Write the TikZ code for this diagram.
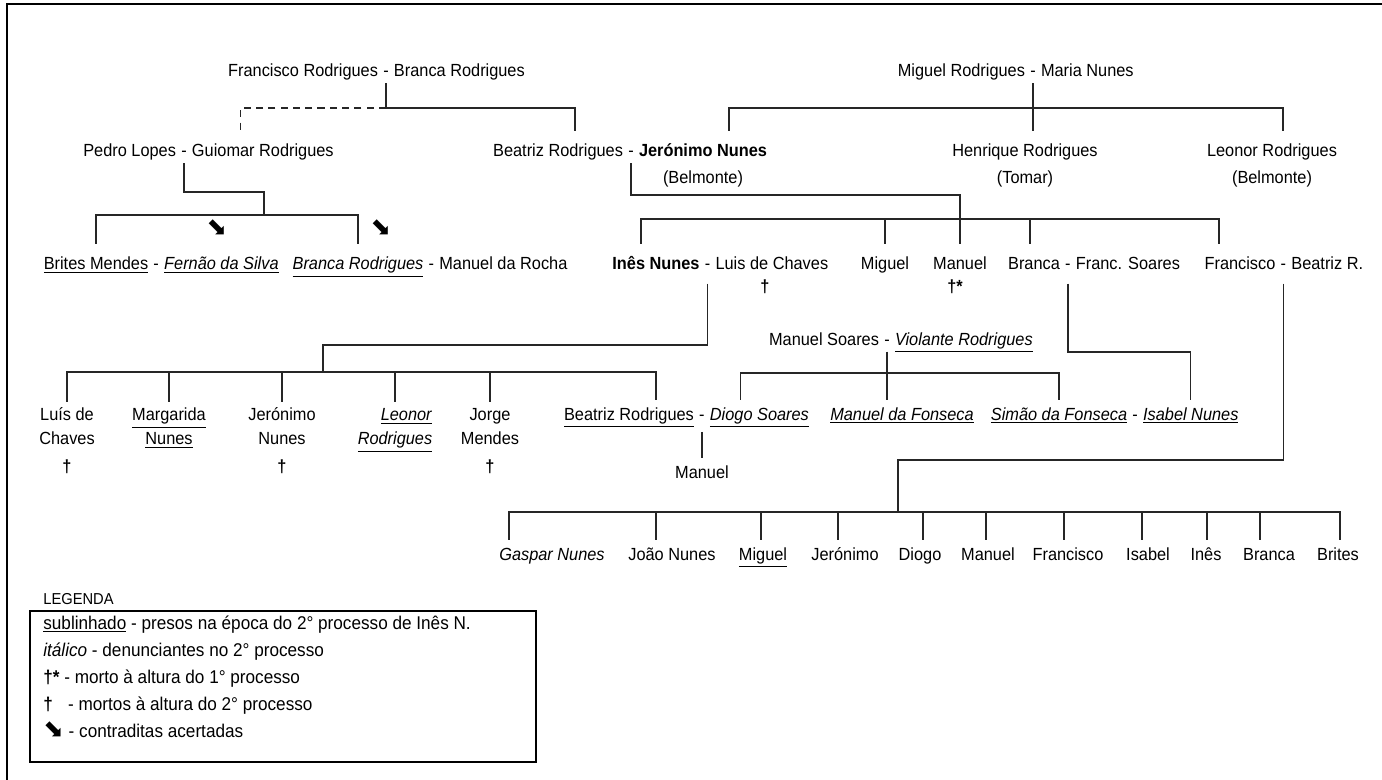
\documentclass[tikz,border=0pt]{standalone}
\usepackage{fontspec}
\setmainfont{Liberation Sans}[FakeStretch=0.93]
\newfontfamily\arrowfont{DejaVu Sans}
\usetikzlibrary{positioning}
\tikzstyle{person} = [inner xsep=0pt, inner ysep=1pt, text height=8pt, text depth=2.5pt]
\tikzstyle{wed} = [person, inner xsep=2.6pt]
\tikzstyle{kid} = [anchor=north, align=center, inner sep=1pt]
\tikzstyle{line} = [draw, line width=0.7pt, black!85]
\tikzstyle{drop} = [line, shorten >=5.5pt]
\tikzstyle{dropk} = [line, shorten >=2pt]
\tikzstyle{kin} = [line, dash pattern=on 4pt off 3pt, shorten >=5.5pt]
\newcommand{\sublin}[1]{\underline{#1}}
\newcommand{\cruz}{\textbf{†}}
\newcommand{\seta}{{\arrowfont\fontsize{14}{14}\selectfont ⬊}}

\begin{document}
\begin{tikzpicture}[x=0.02cm, y=-0.02cm,
    every node/.append style={font=\fontsize{10}{13.7}\selectfont}]
	\useasboundingbox (0,0) rectangle (1382,780);
	\draw[line width=1.4pt] (1382,4) -- (7,4) -- (7,780);

	% first generation
	\node [wed, anchor=base] (mFB) at (386,77) {-};
	\node [person, left=0pt of mFB] (franciscoR) {Francisco Rodrigues};
	\node [person, right=0pt of mFB] (brancaR0) {Branca Rodrigues};
	\node [wed, anchor=base] (mMM) at (1033,77) {-};
	\node [person, left=0pt of mMM] (miguelR) {Miguel Rodrigues};
	\node [person, right=0pt of mMM] (mariaN) {Maria Nunes};

	% second generation
	\node [wed, anchor=base] (mPG) at (184,157) {-};
	\node [person, left=0pt of mPG] (pedroL) {Pedro Lopes};
	\node [person, right=0pt of mPG] (guiomarR) {Guiomar Rodrigues};
	\node [wed, anchor=base] (mBJ) at (631,157) {-};
	\node [person, left=0pt of mBJ] (beatrizR) {Beatriz Rodrigues};
	\node [person, right=0pt of mBJ] (jeronimoN) {\textbf{Jerónimo Nunes}};
	\node [person, below=2pt of jeronimoN] (belmA) {(Belmonte)};
	\node [person, anchor=base] (henriqueR) at (1025,157) {Henrique Rodrigues};
	\node [person, below=2pt of henriqueR] (tomarH) {(Tomar)};
	\node [person, anchor=base] (leonorR) at (1272,157) {Leonor Rodrigues};
	\node [person, below=2pt of leonorR] (belmB) {(Belmonte)};

	% third generation
	\node [person, anchor=base] (britesM) at (96,270) {\sublin{Brites Mendes}};
	\node [wed, right=0pt of britesM] (mBF) {-};
	\node [person, right=0pt of mBF] (fernaoS) {\sublin{\textit{Fernão da Silva}}};
	\node [person, anchor=base] (brancaR1) at (358,270) {\sublin{\textit{Branca Rodrigues}}};
	\node [wed, right=0pt of brancaR1] (mBM) {-};
	\node [person, right=0pt of mBM] (manuelR) {Manuel da Rocha};
	\node (arrA) at (217,228) {\seta};
	\node (arrB) at (381,228) {\seta};

	\node [person, anchor=base] (inesN) at (656,270) {\textbf{Inês Nunes}};
	\node [wed, right=0pt of inesN] (mIL) {-};
	\node [person, right=0pt of mIL] (luisC) {Luis de Chaves};
	\node [person, below=0pt of luisC, xshift=-0.14cm] (dagL) {\cruz};
	\node [person, anchor=base] (miguelN) at (885,270) {Miguel};
	\node [person, anchor=base] (manuelN) at (960,270) {Manuel};
	\node [person, below=0pt of manuelN, xshift=-0.1cm] (dagM) {\textbf{†*}};
	\node [person, anchor=base] (brancaN) at (1034,270) {Branca};
	\node [wed, right=0pt of brancaN] (mBS) {-};
	\node [person, right=0pt of mBS] (soaresF) {Franc. Soares};
	\node [person, anchor=base] (franciscoN) at (1240,270) {Francisco};
	\node [wed, right=0pt of franciscoN] (mFR) {-};
	\node [person, right=0pt of mFR] (beatrizN) {Beatriz R.};

	% fourth generation
	\node [kid] (luisJ) at (67,402) {\rule{0pt}{9.5pt}Luís de\\Chaves\\[2pt]\cruz};
	\node [kid] (margaridaN) at (169,402) {\rule{0pt}{9.5pt}\sublin{Margarida}\\\sublin{Nunes}};
	\node [kid] (jeronimoJ) at (282,402) {\rule{0pt}{9.5pt}Jerónimo\\Nunes\\[2pt]\cruz};
	\node [kid, align=right] (leonorJ) at (395,402) {\rule{0pt}{9.5pt}\sublin{\textit{Leonor}}\\\sublin{\textit{Rodrigues}}};
	\node [kid] (jorgeM) at (490,402) {\rule{0pt}{9.5pt}Jorge\\Mendes\\[2pt]\cruz};
	\node [person, anchor=base] (beatrizJ) at (629,420) {\sublin{Beatriz Rodrigues}};
	\node [wed, right=0pt of beatrizJ] (mBD) {-};
	\node [person, right=0pt of mBD] (diogoS) {\sublin{\textit{Diogo Soares}}};
	\node [person, anchor=base] (manuelD) at (mBD.south |- 0,478) {Manuel};

	\node [wed, anchor=base] (mMV) at (887,345) {-};
	\node [person, left=0pt of mMV] (manuelS) {Manuel Soares};
	\node [person, right=0pt of mMV] (violanteR) {\sublin{\textit{Violante Rodrigues}}};
	\node [person, anchor=base] (manuelF) at (902,420) {\sublin{\textit{Manuel da Fonseca}}};
	\node [person, anchor=base] (simaoF) at (1059,420) {\sublin{\textit{Simão da Fonseca}}};
	\node [wed, right=0pt of simaoF] (mSI) {-};
	\node [person, right=0pt of mSI] (isabelN) {\sublin{\textit{Isabel Nunes}}};

	% connectors
	\coordinate (kFB) at (mFB.south |- 0,108);
	\draw [drop] (mFB.south) -- (kFB) -| ([xshift=0.34cm]beatrizR.north);
	\draw [kin] (kFB) -| ([xshift=-0.44cm]guiomarR.north);

	\coordinate (kMM) at (mMM.south |- 0,108);
	\draw [drop] (mMM.south) -- (mMM.south |- henriqueR.north);
	\draw [drop] (kMM) -| ([xshift=0.52cm]jeronimoN.north);
	\draw [drop] (kMM) -| ([xshift=0.22cm]leonorR.north);

	\coordinate (kPGa) at (mPG.south |- 0,192);
	\coordinate (kPG) at (264,215);
	\draw [line] (mPG.south) -- (kPGa) -| (kPG);
	\draw [drop] (kPG) -| (britesM.north);
	\draw [drop] (kPG) -| (brancaR1.north);

	\coordinate (kBJa) at (manuelN.north |- 0,195);
	\coordinate (kBJ) at (manuelN.north |- 0,219);
	\draw [drop] (mBJ.south) |- (kBJa) -- (manuelN.north);
	\foreach \c/\s in {inesN/-15, miguelN/0, brancaN/-4, franciscoN/-21}
		\draw [drop] (kBJ) -| ([xshift=\s*0.02cm]\c.north);

	\coordinate (kILa) at (323,345);
	\coordinate (kIL) at (323,372);
	\draw [line, shorten <=4pt] (mIL.south) |- (kILa) -- (kIL);
	\foreach \c in {luisJ, margaridaN, jeronimoJ, leonorJ, jorgeM}
		\draw [line] (kIL) -| (\c.north);
	\draw [dropk] (kIL) -| ([xshift=0.54cm]beatrizJ.north);
	\draw [dropk, shorten <=3pt] (mBD.south) -- (manuelD.north);

	\coordinate (kMV) at (mMV.south |- 0,373);
	\draw [dropk] (mMV.south) -- (kMV) -- (kMV |- manuelF.north);
	\draw [dropk] (kMV) -| ([xshift=-0.38cm]diogoS.north);
	\draw [dropk] (kMV) -| (simaoF.north);

	\draw [dropk, shorten <=4pt] (mBS.south) |- (isabelN.north |- 0,352) -- (isabelN.north);

	% grandchildren of Francisco and Beatriz R.
	\coordinate (kFRa) at (898,460);
	\coordinate (kFR) at (898,512);
	\draw [line, shorten <=4pt] (mFR.south) |- (kFRa) -- (kFR);
	\foreach \n/\x/\t/\s in {gaspar/552/\textit{Gaspar Nunes}/-43, joaoN/672/João Nunes/-16,
			miguelG/763/\sublin{Miguel}/-2, jeronimoG/845/Jerónimo/-7, diogoG/920/Diogo/3,
			manuelG/988/Manuel/-2, franciscoG/1068/Francisco/-4, isabelG/1148/Isabel/-6,
			inesG/1206/Inês/1, brancaG/1269/Branca/-9, britesG/1338/Brites/2} {
		\node [person, anchor=base] (\n) at (\x,560) {\t};
		\draw [dropk] (kFR) -| ([xshift=\s*0.02cm]\n.north);
	}

	% legend
	\node [anchor=base west, inner sep=0pt, font=\fontsize{9}{10}\selectfont] (legTitle) at (43,604) {LEGENDA};
	\draw [line width=0.8pt] (30,611) rectangle (536,762);
	\node [anchor=north west, align=left, inner sep=0pt, font=\fontsize{10.5}{15.5}\selectfont] (legText) at (43,612)
		{\rule{0pt}{9.5pt}\sublin{sublinhado} - presos na época do 2° processo de Inês N.\\
		\textit{itálico} - denunciantes no 2° processo\\
		\textbf{†*} - morto à altura do 1° processo\\
		\textbf{†}\hspace{6pt} - mortos à altura do 2° processo\\
		\seta{} - contraditas acertadas};
\end{tikzpicture}
\end{document}
